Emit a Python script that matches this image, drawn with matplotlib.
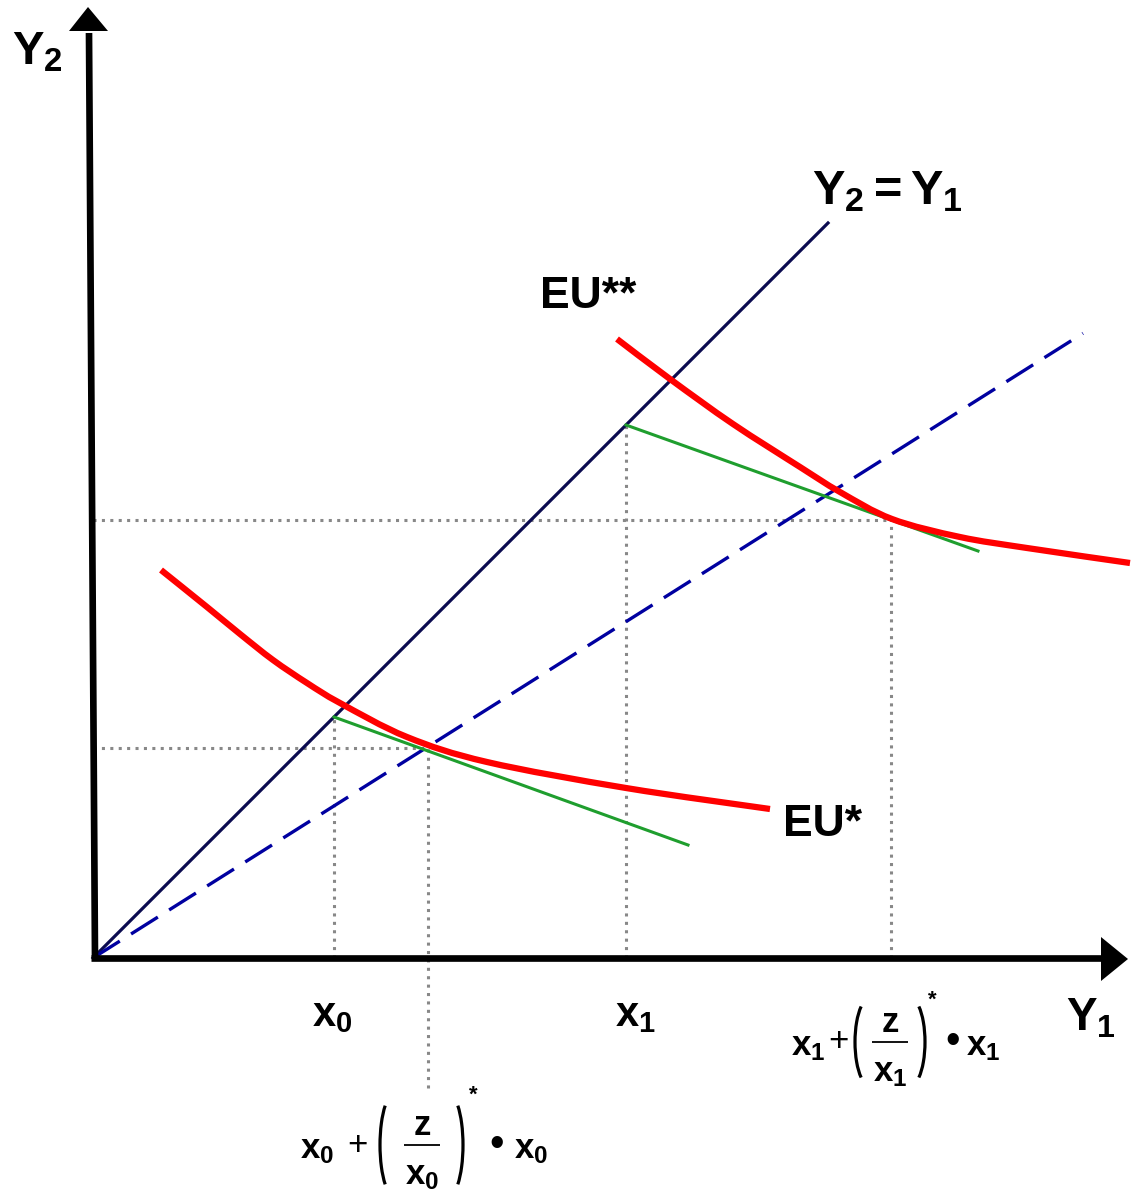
import matplotlib
matplotlib.use("Agg")
import matplotlib.pyplot as plt
from matplotlib.path import Path
from matplotlib.patches import PathPatch, Arc
import numpy as np

plt.rcParams['font.family'] = ['Liberation Sans', 'DejaVu Sans']
plt.rcParams['mathtext.fontset'] = 'custom'
plt.rcParams['mathtext.rm'] = 'Liberation Sans:bold'
plt.rcParams['mathtext.it'] = 'Liberation Sans:bold'
plt.rcParams['mathtext.bf'] = 'Liberation Sans:bold'
plt.rcParams['mathtext.sf'] = 'Liberation Sans:bold'

# ---- data (diagram units, origin at the axes corner) ----
x0 = 241
x1 = 533
dashed_slope = 0.631
dashed_end = 990
diag_end = 735

tan0 = (335, 210)        # tangency on EU*
tan1 = (798, 438)        # tangency on EU**
green0_end = (595, 113)
green1_end = (885, 407)

eu1_x = [68, 114, 147, 180, 214, 247, 314, 394, 533, 677]
eu1_y = [388, 351, 324, 298, 275, 255, 221, 196, 170, 149]

eu2_x = [524, 577, 640, 707, 747, 799, 867, 934, 1037]
eu2_y = [619, 579, 534, 491, 466, 439, 421, 410, 395]


def smooth_path(xs, ys):
    """Catmull-Rom curve through the points, as cubic Bezier segments."""
    P = np.column_stack([xs, ys]).astype(float)
    ext = np.vstack([P[0], P, P[-1]])
    verts = [P[0]]
    codes = [Path.MOVETO]
    for i in range(len(P) - 1):
        p_prev, p0, p1, p_next = ext[i], ext[i + 1], ext[i + 2], ext[i + 3]
        c1 = p0 + (p1 - p_prev) / 6.0
        c2 = p1 - (p_next - p0) / 6.0
        verts += [c1, c2, p1]
        codes += [Path.CURVE4] * 3
    return Path(verts, codes)


# ---- figure ----
fig = plt.figure(figsize=(11.4, 11.96), dpi=100)
ax = fig.add_axes([0, 0, 1, 1])
ax.set_xlim(-93, 1047)
ax.set_ylim(-238, 958)
ax.axis('off')

dot_kw = dict(color='#888888', lw=2.2, dashes=(1, 1.75), solid_capstyle='butt',
              dash_capstyle='butt', zorder=1)
# dotted guides
ax.plot([0, tan1[0]], [tan1[1], tan1[1]], **dot_kw)
ax.plot([0, tan0[0]], [tan0[1], tan0[1]], **dot_kw)
ax.plot([x0, x0], [0, x0], **dot_kw)
ax.plot([x1, x1], [0, x1], **dot_kw)
ax.plot([tan0[0], tan0[0]], [-130, tan0[1]], **dot_kw)
ax.plot([tan1[0], tan1[0]], [0, tan1[1]], **dot_kw)

# 45 degree line
ax.plot([0, diag_end], [0, diag_end], color='#0b0b50', lw=2.3, zorder=2)
# dashed line
ax.plot([0, dashed_end], [0, dashed_slope * dashed_end], color='#0000a0', lw=2.4,
        dashes=(9.5, 4.0), zorder=2)

# green tangents
ax.plot([x0, green0_end[0]], [x0, green0_end[1]], color='#1f9e2e', lw=2.2, zorder=3)
ax.plot([x1, green1_end[0]], [x1, green1_end[1]], color='#1f9e2e', lw=2.2, zorder=3)

# red indifference curves
for xs, ys in [(eu1_x, eu1_y), (eu2_x, eu2_y)]:
    ax.add_patch(PathPatch(smooth_path(xs, ys), fill=False, edgecolor='#ff0000',
                           lw=4.5, capstyle='butt', joinstyle='round', zorder=4))

# axes with arrows
ax.plot([2, -4], [0, 925], color='black', lw=4.8, solid_capstyle='butt', zorder=5)
ax.plot([-2, 1010], [0, 0], color='black', lw=4.8, solid_capstyle='butt', zorder=5)
ax.fill([-5, -24, 15], [951, 927, 927], color='black', zorder=5, lw=0)
ax.fill([1035, 1008, 1008], [-1, 21, -23], color='black', zorder=5, lw=0)

# labels
ax.text(-81, 905, r'$Y_2$', fontsize=34, ha='left', va='center')
ax.text(998, -60, r'$Y_1$', fontsize=33, ha='center', va='center')
ax.text(719, 766, r'$Y_2=Y_1$', fontsize=35, ha='left', va='center')
ax.text(447, 661, 'EU**', fontsize=32, fontweight='bold', ha='left', va='center')
ax.text(690, 133, 'EU*', fontsize=32, fontweight='bold', ha='left', va='center')
ax.text(x0 - 2, -57, r'$x_0$', fontsize=30, ha='center', va='center')
ax.text(x1 + 9, -57, r'$x_1$', fontsize=30, ha='center', va='center')


def formula(sub, px_left, py_bar, px_plus, px_lp, px_frac, px_rp, px_star, px_dot,
            px_right, paren_h, fs=25):
    """Draw x_s + (z / x_s)^* . x_s  with pixel-like layout."""
    X = lambda px: px - 93
    Y = lambda py: 958 - py
    xs = r'$x_{%s}$' % sub
    ax.text(X(px_left), Y(py_bar + 13), xs, fontsize=fs, ha='left', va='baseline')
    ax.text(X(px_plus), Y(py_bar), '+', fontsize=fs, ha='center', va='center')
    ax.text(X(px_frac), Y(py_bar - 10), r'$z$', fontsize=fs, ha='center', va='baseline')
    ax.text(X(px_frac), Y(py_bar + 39), xs, fontsize=fs, ha='center', va='baseline')
    ax.plot([X(px_frac - 18), X(px_frac + 18)], [Y(py_bar), Y(py_bar)], color='black',
            lw=1.3, solid_capstyle='butt')
    ax.add_patch(Arc((X(px_lp + 15), Y(py_bar)), 30, paren_h, theta1=104, theta2=256,
                     lw=2.3, color='black'))
    ax.add_patch(Arc((X(px_rp - 15), Y(py_bar)), 30, paren_h, theta1=-76, theta2=76,
                     lw=2.3, color='black'))
    ax.text(X(px_star), Y(py_bar - paren_h / 2 + 2), '*', fontsize=16, fontweight='bold',
            ha='center', va='center')
    ax.text(X(px_dot), Y(py_bar), '\u2022', fontsize=30, ha='center', va='center')
    ax.text(X(px_right), Y(py_bar + 13), xs, fontsize=fs, ha='left', va='baseline')


formula('1', px_left=791, py_bar=1042, px_plus=838, px_lp=855, px_frac=890, px_rp=925,
        px_star=932, px_dot=953, px_right=966, paren_h=88)
formula('0', px_left=300, py_bar=1145, px_plus=357, px_lp=380, px_frac=422, px_rp=463,
        px_star=473, px_dot=497, px_right=514, paren_h=104)

fig.savefig('out.png', dpi=100)
